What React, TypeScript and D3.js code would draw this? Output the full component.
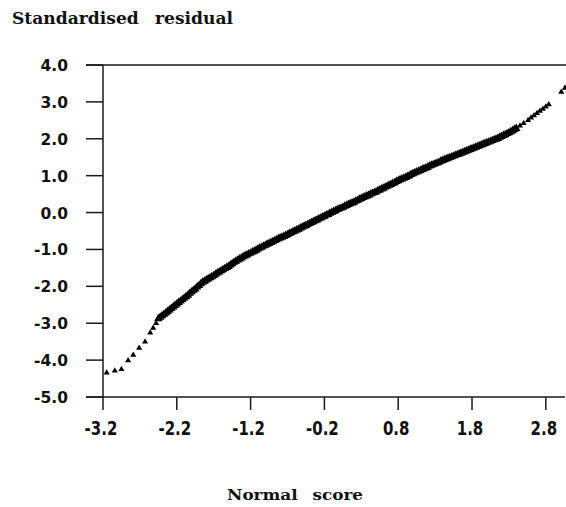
import React from "react";
import * as d3 from "d3";

// Normal scores (x) and standardised residuals (y)
const tailLowX = [-3.15, -3.04, -2.95, -2.86, -2.79, -2.71, -2.63, -2.56, -2.52, -2.48];
const tailLowY = [-4.34, -4.29, -4.25, -4.01, -3.86, -3.67, -3.5, -3.26, -3.13, -3.0];

const bodyX = [
  -2.45, -2.425, -2.4, -2.375, -2.35, -2.325, -2.3, -2.275, -2.25, -2.225,
  -2.2, -2.175, -2.15, -2.125, -2.1, -2.075, -2.05, -2.025, -2.0, -1.975,
  -1.95, -1.925, -1.9, -1.875, -1.85, -1.825, -1.8, -1.775, -1.75, -1.725,
  -1.7, -1.675, -1.65, -1.625, -1.6, -1.575, -1.55, -1.525, -1.5, -1.475,
  -1.45, -1.425, -1.4, -1.375, -1.35, -1.325, -1.3, -1.275, -1.25, -1.225,
  -1.2, -1.175, -1.15, -1.125, -1.1, -1.075, -1.05, -1.025, -1.0, -0.975,
  -0.95, -0.925, -0.9, -0.875, -0.85, -0.825, -0.8, -0.775, -0.75, -0.725,
  -0.7, -0.675, -0.65, -0.625, -0.6, -0.575, -0.55, -0.525, -0.5, -0.475,
  -0.45, -0.425, -0.4, -0.375, -0.35, -0.325, -0.3, -0.275, -0.25, -0.225,
  -0.2, -0.175, -0.15, -0.125, -0.1, -0.075, -0.05, -0.025, 0.0, 0.025,
  0.05, 0.075, 0.1, 0.125, 0.15, 0.175, 0.2, 0.225, 0.25, 0.275,
  0.3, 0.325, 0.35, 0.375, 0.4, 0.425, 0.45, 0.475, 0.5, 0.525,
  0.55, 0.575, 0.6, 0.625, 0.65, 0.675, 0.7, 0.725, 0.75, 0.775,
  0.8, 0.825, 0.85, 0.875, 0.9, 0.925, 0.95, 0.975, 1.0, 1.025,
  1.05, 1.075, 1.1, 1.125, 1.15, 1.175, 1.2, 1.225, 1.25, 1.275,
  1.3, 1.325, 1.35, 1.375, 1.4, 1.425, 1.45, 1.475, 1.5, 1.525,
  1.55, 1.575, 1.6, 1.625, 1.65, 1.675, 1.7, 1.725, 1.75, 1.775,
  1.8, 1.825, 1.85, 1.875, 1.9, 1.925, 1.95, 1.975, 2.0, 2.025,
  2.05, 2.075, 2.1, 2.125, 2.15, 2.175, 2.2, 2.225, 2.25, 2.275,
  2.3, 2.325, 2.35, 2.375, 2.4,
];
const bodyY = [
  -2.88, -2.84, -2.8, -2.76, -2.72, -2.68, -2.64, -2.6, -2.56, -2.52,
  -2.48, -2.44, -2.4, -2.36, -2.32, -2.28, -2.24, -2.19, -2.15, -2.11,
  -2.07, -2.02, -1.98, -1.93, -1.89, -1.86, -1.83, -1.8, -1.77, -1.74,
  -1.71, -1.67, -1.64, -1.61, -1.58, -1.55, -1.52, -1.49, -1.46, -1.42,
  -1.39, -1.35, -1.32, -1.29, -1.26, -1.23, -1.2, -1.17, -1.15, -1.12,
  -1.1, -1.07, -1.05, -1.02, -0.99, -0.96, -0.94, -0.91, -0.89, -0.86,
  -0.84, -0.81, -0.79, -0.76, -0.74, -0.71, -0.69, -0.67, -0.65, -0.62,
  -0.6, -0.57, -0.55, -0.52, -0.5, -0.47, -0.45, -0.42, -0.4, -0.37,
  -0.35, -0.32, -0.3, -0.27, -0.25, -0.22, -0.2, -0.17, -0.15, -0.12,
  -0.1, -0.07, -0.05, -0.02, 0.0, 0.03, 0.05, 0.08, 0.1, 0.12,
  0.14, 0.17, 0.19, 0.22, 0.24, 0.26, 0.28, 0.31, 0.33, 0.36,
  0.38, 0.41, 0.43, 0.45, 0.47, 0.5, 0.52, 0.54, 0.56, 0.59,
  0.61, 0.64, 0.66, 0.69, 0.71, 0.74, 0.76, 0.79, 0.81, 0.84,
  0.86, 0.89, 0.91, 0.93, 0.95, 0.98, 1.0, 1.03, 1.05, 1.08,
  1.1, 1.12, 1.14, 1.17, 1.19, 1.21, 1.23, 1.26, 1.28, 1.3,
  1.32, 1.34, 1.36, 1.39, 1.41, 1.43, 1.45, 1.47, 1.49, 1.51,
  1.53, 1.55, 1.57, 1.59, 1.61, 1.63, 1.65, 1.67, 1.69, 1.71,
  1.73, 1.75, 1.77, 1.79, 1.81, 1.83, 1.85, 1.87, 1.89, 1.91,
  1.93, 1.95, 1.97, 1.99, 2.01, 2.04, 2.06, 2.09, 2.11, 2.14,
  2.16, 2.19, 2.22, 2.25, 2.28,
];

const tailHighX = [2.45, 2.5, 2.56, 2.6, 2.64, 2.68, 2.72, 2.76, 2.8, 2.84, 3.01, 3.06];
const tailHighY = [2.35, 2.42, 2.5, 2.57, 2.63, 2.69, 2.75, 2.81, 2.87, 2.93, 3.27, 3.38];

const yTicks = [4, 3, 2, 1, 0, -1, -2, -3, -4, -5];
const yTickLabels = ["4.0", "3.0", "2.0", "1.0", "0.0", "-1.0", "-2.0", "-3.0", "-4.0", "-5.0"];
const xTicks = [-3.2, -2.2, -1.2, -0.2, 0.8, 1.8, 2.8];
const xTickLabels = ["-3.2", "-2.2", "-1.2", "-0.2", "0.8", "1.8", "2.8"];

const yTitle = "Standardised residual";
const xTitle = "Normal score";

export default function App() {
  const W = 566;
  const H = 507;
  const x = d3.scaleLinear().domain([-3.2, 3.06]).range([103, 565]);
  const y = d3.scaleLinear().domain([-5, 4]).range([397, 65]);
  const triSmall = d3.symbol().type(d3.symbolTriangle).size(16)();
  const triBody = d3.symbol().type(d3.symbolTriangle).size(32)();
  const allX = [...tailLowX, ...bodyX, ...tailHighX];
  const allY = [...tailLowY, ...bodyY, ...tailHighY];
  const nLow = tailLowX.length;
  const nBody = bodyX.length;
  const stroke = "#1a1a1a";
  const tickFont = "'DejaVu Sans', sans-serif";
  const titleFont = "'DejaVu Serif', serif";

  return (
    <svg
      width={W}
      height={H}
      style={{ position: "absolute", left: 0, top: 0, background: "#fff" }}
    >
      <rect x={0} y={0} width={W} height={H} fill="#fff" />
      <text
        x={12}
        y={24}
        fontFamily={titleFont}
        fontWeight="bold"
        fontSize={16.5}
        wordSpacing={10}
        textLength={221}
        lengthAdjust="spacingAndGlyphs"
        fill="#111"
      >
        {yTitle}
      </text>

      {/* frame lines */}
      <line x1={86} x2={566} y1={y(4)} y2={y(4)} stroke={stroke} strokeWidth={1.5} />
      <line x1={86} x2={565} y1={y(-5)} y2={y(-5)} stroke={stroke} strokeWidth={1.5} />
      <line x1={x(-3.2)} x2={x(-3.2)} y1={y(4)} y2={y(-5)} stroke={stroke} strokeWidth={1.5} />

      {/* y ticks */}
      {yTicks.map((t, i) => (
        <g key={"y" + t}>
          <line x1={86} x2={x(-3.2)} y1={y(t)} y2={y(t)} stroke={stroke} strokeWidth={1.5} />
          <text
            x={68}
            y={y(t) + 6}
            textAnchor="end"
            fontFamily={tickFont}
            fontWeight="bold"
            fontSize={15.5}
            fill="#111"
          >
            {yTickLabels[i]}
          </text>
        </g>
      ))}

      {/* x ticks */}
      {xTicks.map((t, i) => (
        <g key={"x" + t}>
          <line x1={x(t)} x2={x(t)} y1={y(-5)} y2={y(-5) + 13} stroke={stroke} strokeWidth={1.5} />
          <text
            transform={`translate(${x(t) - 2},435) scale(1,1.3)`}
            textAnchor="middle"
            fontFamily={tickFont}
            fontWeight="bold"
            fontSize={15}
            fill="#111"
          >
            {xTickLabels[i]}
          </text>
        </g>
      ))}

      {/* points */}
      {allX.map((v, i) => (
        <path
          key={i}
          d={i >= nLow && i < nLow + nBody ? triBody : triSmall}
          transform={`translate(${x(v)},${y(allY[i])})`}
          fill="#000"
        />
      ))}

      <text
        x={227}
        y={499.5}
        fontFamily={titleFont}
        fontWeight="bold"
        fontSize={15}
        wordSpacing={8}
        textLength={136}
        lengthAdjust="spacingAndGlyphs"
        fill="#111"
      >
        {xTitle}
      </text>
    </svg>
  );
}
